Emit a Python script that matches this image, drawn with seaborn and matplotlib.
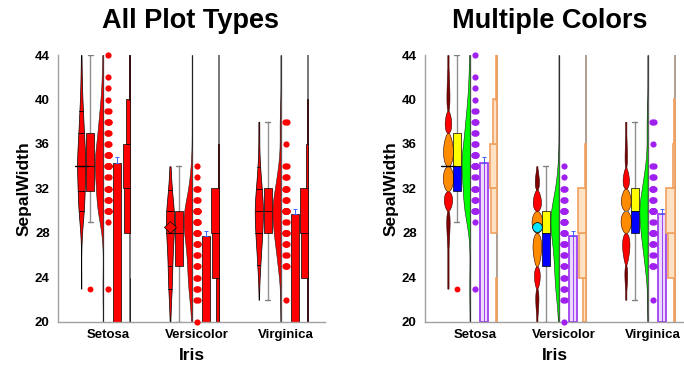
"""Two panels of iris sepal width: every plot type side by side, plain red and multi-coloured."""

import matplotlib

matplotlib.use("Agg")
import matplotlib.pyplot as plt
import numpy as np
import pandas as pd
import seaborn as sns
from matplotlib.patches import Rectangle


SPECIES = ["Setosa", "Versicolor", "Virginica"]
SETOSA = [35, 30, 32, 31, 36, 39, 34, 34, 29, 31, 37, 34, 30, 30, 40, 44, 39,
          35, 38, 38, 34, 37, 36, 33, 34, 30, 34, 35, 34, 32, 31, 34, 41, 42,
          31, 32, 35, 36, 30, 34, 35, 23, 32, 35, 38, 30, 38, 32, 37, 33]
VERSICOLOR = [32, 32, 31, 23, 28, 28, 33, 24, 29, 27, 20, 30, 22, 29, 29, 31,
              30, 27, 22, 25, 32, 28, 25, 28, 29, 30, 28, 30, 29, 26, 24, 24,
              27, 27, 30, 34, 31, 23, 30, 25, 26, 30, 26, 23, 27, 30, 29, 29,
              25, 28]
VIRGINICA = [33, 27, 30, 29, 30, 30, 25, 29, 25, 36, 32, 27, 30, 25, 28, 32,
             30, 38, 26, 22, 32, 28, 28, 27, 33, 32, 28, 30, 28, 30, 28, 38,
             28, 28, 26, 30, 34, 31, 30, 31, 31, 31, 27, 32, 33, 30, 25, 30,
             34, 30]
GROUPS = [SETOSA, VERSICOLOR, VIRGINICA]
# how the centre of each violin is flagged
MEDIAN_MARK = ["wide", "marker", "plain"]
MARK_Y = [34, 28.5, 30]
Y_TICKS = [20, 24, 28, 32, 36, 40, 44]
HIST_EDGES = [20, 24, 28, 32, 36, 40, 44]
PERCENTILES = [10, 25, 50, 75, 90]

# x offsets of each plot type inside a group (category units)
OFF_VIOLIN, OFF_BOX, OFF_HALF, OFF_BAR, OFF_HIST = -0.305, -0.205, -0.06, 0.10, 0.245
HALF_W = 0.046
BOX_W = 0.088

PLAIN = {
    "violin": ["#ff0000"] * 6, "marker": "#ff0000", "box_hi": "#ff0000",
    "box_lo": "#ff0000", "half": "#ff0000", "dots": "#ff0000",
    "bar_face": "#ff0000", "bar_edge": "#000000", "hist_face": "#ff0000",
    "hist_edge": "#000000", "hist_line": "#606060",
}
COLORFUL = {
    "violin": ["#800000", "#ff0000", "#ff8c00", "#ff8c00", "#ff0000", "#800000"],
    "marker": "#00e5ff", "box_hi": "#ffff00", "box_lo": "#0000ff",
    "half": "#00ff00", "dots": "#a020f0", "bar_face": "#ecd9ff",
    "bar_edge": "#a040f0", "hist_face": "#ffe2c4", "hist_edge": "#f0a060",
    "hist_line": "#a09080",
}


def kde_profile(values, grid, bw_scale=1.0):
    v = np.asarray(values, dtype=float)
    bw = 1.06 * v.std(ddof=1) * len(v) ** -0.2 * bw_scale
    dens = np.exp(-0.5 * ((grid[:, None] - v[None, :]) / bw) ** 2).sum(axis=1)
    return dens / dens.max()


def hist_counts(values):
    v = np.asarray(values)
    edges = np.asarray(HIST_EDGES)
    counts = []
    for lo, hi in zip(edges[:-1], edges[1:]):
        inside = (v > lo) & (v <= hi)
        if lo == edges[0]:
            inside |= v == lo
        counts.append(inside.sum())
    return np.array(counts)


def box_stats(values):
    v = np.asarray(values, dtype=float)
    q1, med, q3 = np.percentile(v, [25, 50, 75], method="weibull")
    iqr = q3 - q1
    inside = v[(v >= q1 - 1.5 * iqr) & (v <= q3 + 1.5 * iqr)]
    outliers = v[(v < q1 - 1.5 * iqr) | (v > q3 + 1.5 * iqr)]
    return q1, med, q3, inside.min(), inside.max(), outliers


def draw_violin(ax, x, vals, pal, colorful, mark, mark_y):
    v = np.asarray(vals, dtype=float)
    pct = np.percentile(v, PERCENTILES, method="weibull")
    grid = np.linspace(v.min(), v.max(), 300)
    if not colorful:
        width = HALF_W * kde_profile(v, grid, 0.9)
        ax.fill_betweenx(grid, x - width, x + width, facecolor=pal["violin"][0],
                         edgecolor="black", linewidth=0.5, zorder=2)
        for p in pct:
            w = np.interp(p, grid, width)
            ax.plot([x - w, x + w], [p, p], color="black", lw=0.6, zorder=3)
    else:
        width = 1.3 * HALF_W * kde_profile(v, grid, 1.15)
        levels = [v.min(), *pct, v.max()]
        for (lo, hi), color in zip(zip(levels[:-1], levels[1:]), pal["violin"]):
            seg = np.linspace(lo, hi, 80)
            t = (seg - lo) / (hi - lo)
            w = np.interp(seg, grid, width) * np.clip(np.sin(np.pi * t), 0, 1) ** 0.45
            w = np.maximum(w, 0.007)
            ax.fill_betweenx(seg, x - w, x + w, facecolor=color,
                             edgecolor="#300000", linewidth=0.4, zorder=2)
    if mark == "wide":
        ax.plot([x - 0.075, x + 0.075], [mark_y, mark_y], color="black", lw=1.0, zorder=4)
    elif mark == "marker":
        shape = "o" if colorful else "D"
        ax.plot([x], [mark_y], marker=shape, ms=7 if colorful else 6,
                mfc=pal["marker"], mec="black", mew=0.5, zorder=4)
    elif colorful:
        ax.plot([x - 0.02, x + 0.02], [mark_y, mark_y], color="#808080", lw=0.8, zorder=4)


def draw_box(ax, x, vals, pal):
    q1, med, q3, lo, hi, outliers = box_stats(vals)
    ax.plot([x, x], [q3, hi], color="#909090", lw=1.0, zorder=1)
    ax.plot([x, x], [lo, q1], color="#909090", lw=1.0, zorder=1)
    for end in (lo, hi):
        ax.plot([x - 0.028, x + 0.028], [end, end], color="#808080", lw=1.0, zorder=1)
    ax.add_patch(Rectangle((x - BOX_W / 2, med), BOX_W, q3 - med, facecolor=pal["box_hi"],
                           edgecolor="black", lw=0.5, zorder=2))
    ax.add_patch(Rectangle((x - BOX_W / 2, q1), BOX_W, med - q1, facecolor=pal["box_lo"],
                           edgecolor="black", lw=0.5, zorder=2))
    if len(outliers):
        ax.scatter([x] * len(outliers), outliers, s=18, color="#ff0000", lw=0, zorder=3)


def draw_half(ax, x, vals, pal):
    grid = np.linspace(Y_TICKS[0], Y_TICKS[-1], 400)
    width = 2 * HALF_W * kde_profile(vals, grid, 0.85)
    ax.plot([x, x], [Y_TICKS[0], Y_TICKS[-1]], color="#808080", lw=1.0, zorder=1)
    ax.fill_betweenx(grid, x - width, x, facecolor=pal["half"], edgecolor="#202020",
                     linewidth=0.4, zorder=2)


def dot_frame(groups):
    rows = []
    for i, vals in enumerate(groups):
        values, counts = np.unique(vals, return_counts=True)
        for value, n in zip(values, counts):
            shifts = np.linspace(-0.013, 0.013, n) if n > 1 else [0.0]
            for s in shifts:
                rows.append({"x": i + s, "y": value})
    return pd.DataFrame(rows)


def draw_bar(ax, x, vals, pal, colorful):
    v = np.asarray(vals, dtype=float)
    mean = v.mean()
    se = v.std(ddof=1) / np.sqrt(len(v))
    ax.bar(x, mean - Y_TICKS[0], bottom=Y_TICKS[0], width=BOX_W,
           facecolor=pal["bar_face"], edgecolor=pal["bar_edge"],
           lw=1.3 if colorful else 0.5, zorder=2)
    if colorful:
        ax.plot([x, x], [Y_TICKS[0], mean], color=pal["bar_edge"], lw=0.7, zorder=3)
    ax.errorbar([x], [mean], yerr=[[0], [se]], color="#4060ff", lw=0.7,
                capsize=1.5, capthick=0.7, zorder=3)


def draw_hist(ax, x, vals, pal, scale, colorful):
    counts = hist_counts(vals)
    ax.plot([x, x], [Y_TICKS[0], Y_TICKS[-1]], color=pal["hist_line"], lw=1.2, zorder=1)
    edges = np.asarray(HIST_EDGES)
    for lo, hi, n in zip(edges[:-1], edges[1:], counts):
        if n == 0:
            continue
        w = n * scale
        ax.add_patch(Rectangle((x - w, lo), w, hi - lo, facecolor=pal["hist_face"],
                               edgecolor=pal["hist_edge"],
                               lw=1.2 if colorful else 0.5, zorder=2))


def draw_panel(ax, colorful):
    pal = COLORFUL if colorful else PLAIN
    hist_scale = 2 * HALF_W / max(hist_counts(g).max() for g in GROUPS)
    for i, vals in enumerate(GROUPS):
        draw_violin(ax, i + OFF_VIOLIN, vals, pal, colorful, MEDIAN_MARK[i], MARK_Y[i])
        draw_box(ax, i + OFF_BOX, vals, pal)
        draw_half(ax, i + OFF_HALF, vals, pal)
        draw_bar(ax, i + OFF_BAR, vals, pal, colorful)
        draw_hist(ax, i + OFF_HIST, vals, pal, hist_scale, colorful)
    sns.scatterplot(data=dot_frame(GROUPS), x="x", y="y", color=pal["dots"], s=20,
                    linewidth=0, clip_on=False, legend=False, zorder=3, ax=ax)

    ax.set_ylim(Y_TICKS[0], Y_TICKS[-1])
    ax.set_yticks(Y_TICKS)
    ax.set_xticks(range(len(SPECIES)))
    ax.set_xticklabels(SPECIES)
    ax.tick_params(axis="x", length=0, pad=5, labelsize=9.5, labelcolor="black")
    ax.tick_params(axis="y", length=4, width=0.8, color="#a0a0a0", pad=2, labelsize=9.5,
                   labelcolor="black")
    for label in ax.get_xticklabels() + ax.get_yticklabels():
        label.set_fontweight("bold")
    ax.set_xlabel("Iris", fontsize=12.5, fontweight="bold", labelpad=5, color="black")
    ax.set_ylabel("SepalWidth", fontsize=12.5, fontweight="bold", labelpad=2, color="black")
    for side in ("top", "right"):
        ax.spines[side].set_visible(False)
    for side in ("left", "bottom"):
        ax.spines[side].set_color("#a0a0a0")
        ax.spines[side].set_linewidth(1.0)


sns.set_style("white")
plt.rcParams["font.family"] = ["Liberation Sans", "DejaVu Sans"]

fig = plt.figure(figsize=(6.84, 3.66), dpi=100)
ax_left = fig.add_axes([58 / 684, 44 / 366, 267 / 684, 267 / 366])
ax_right = fig.add_axes([425 / 684, 44 / 366, 259 / 684, 267 / 366])

draw_panel(ax_left, colorful=False)
draw_panel(ax_right, colorful=True)
ax_left.set_xlim(-0.566, 2.44)
ax_right.set_xlim(-0.563, 2.35)

fig.text(191 / 684, 1 - 21 / 366, "All Plot Types", ha="center", va="center",
         fontsize=19.5, fontweight="bold", color="black")
fig.text(550 / 684, 1 - 21 / 366, "Multiple Colors", ha="center", va="center",
         fontsize=19.5, fontweight="bold", color="black")

fig.savefig("out.png", dpi=100)
plt.close(fig)
